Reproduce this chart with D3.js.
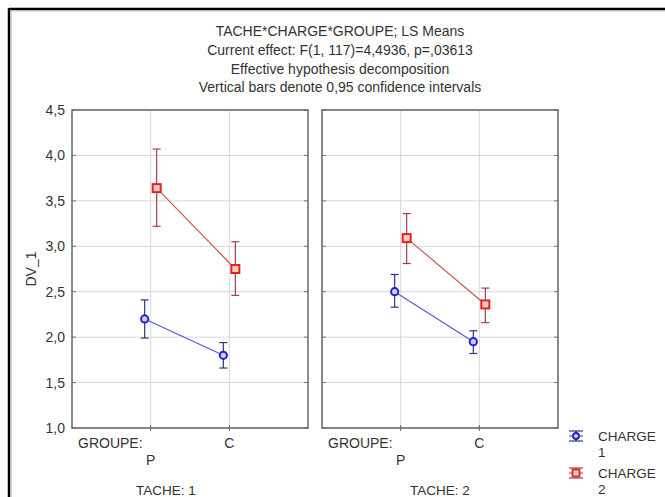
<!DOCTYPE html>
<html><head><meta charset="utf-8">
<script src="https://cdn.jsdelivr.net/npm/d3@7"></script>
<style>body{margin:0;background:#fff;} text{font-family:"Liberation Sans",Arial,sans-serif;fill:#333;}</style>
</head><body>
<svg id="c" width="665" height="497"></svg>
<script>
const titleLines = ["TACHE*CHARGE*GROUPE; LS Means","Current effect: F(1, 117)=4,4936, p=,03613","Effective hypothesis decomposition","Vertical bars denote 0,95 confidence intervals"];
const taches = ["TACHE: 1","TACHE: 2"];
const groupes = ["P","C"];
const series = ["CHARGE 1","CHARGE 2"];
const yTicks = [1.0,1.5,2.0,2.5,3.0,3.5,4.0,4.5];
// means [tache][groupe]
const charge1Mean = [[2.20,1.80],[2.50,1.95]];
const charge1Low  = [[1.99,1.66],[2.33,1.82]];
const charge1High = [[2.41,1.94],[2.69,2.07]];
const charge2Mean = [[3.64,2.75],[3.09,2.36]];
const charge2Low  = [[3.22,2.46],[2.81,2.16]];
const charge2High = [[4.07,3.05],[3.36,2.54]];

const FS = "14px";
const svg = d3.select("#c");
// outer frame
svg.append("line").attr("x1",9).attr("x2",665).attr("y1",9).attr("y2",9).attr("stroke","#000").attr("stroke-width",2.5);
svg.append("line").attr("x1",9).attr("x2",9).attr("y1",8).attr("y2",497).attr("stroke","#000").attr("stroke-width",2.5);
svg.append("line").attr("x1",10.5).attr("x2",665).attr("y1",11).attr("y2",11).attr("stroke","#bbb").attr("stroke-width",1);
svg.append("line").attr("x1",11).attr("x2",11).attr("y1",10.5).attr("y2",497).attr("stroke","#bbb").attr("stroke-width",1);

svg.selectAll(".title").data(titleLines).enter().append("text")
  .attr("x",340).attr("y",(d,i)=>36+i*18.8).attr("text-anchor","middle")
  .style("font-size",FS).text(d=>d);

const y = d3.scaleLinear().domain([1,4.5]).range([428,110]);
const panelX = [72,322], panelW = 236;
const blue="#1f1fd6", blueBar="#34347a", blueLine="#5a5ac8";
const red="#e8201e", redBar="#a0404a", redLine="#c85858";

// y tick labels
svg.selectAll(".yt").data(yTicks).enter().append("text")
  .attr("x",65).attr("y",d=>y(d)+5).attr("text-anchor","end").style("font-size",FS)
  .text(d=>d3.format(".1f")(d).replace(".",","));
svg.append("text").attr("transform","translate(36,269) rotate(-90)").attr("text-anchor","middle")
  .style("font-size",FS).text("DV_1");

const seriesData = [
  {name:series[0], mean:charge1Mean, low:charge1Low, high:charge1High, col:blue, bar:blueBar, line:blueLine, shape:"circle", off:-6},
  {name:series[1], mean:charge2Mean, low:charge2Low, high:charge2High, col:red, bar:redBar, line:redLine, shape:"square", off:6}
];

taches.forEach((t,ti)=>{
  const x = d3.scalePoint().domain(groupes).range([panelX[ti], panelX[ti]+panelW]).padding(1);
  const g = svg.append("g");
  // grid
  g.selectAll(".hg").data(yTicks).enter().append("line")
    .attr("x1",panelX[ti]).attr("x2",panelX[ti]+panelW).attr("y1",d=>y(d)).attr("y2",d=>y(d))
    .attr("stroke","#d8d8d8").attr("stroke-width",1);
  g.selectAll(".vg").data(groupes).enter().append("line")
    .attr("x1",d=>x(d)).attr("x2",d=>x(d)).attr("y1",y(4.5)).attr("y2",y(1))
    .attr("stroke","#d8d8d8").attr("stroke-width",1);
  g.selectAll(".vt").data(groupes).enter().append("line")
    .attr("x1",d=>x(d)).attr("x2",d=>x(d)).attr("y1",y(1)-3).attr("y2",y(1)+3)
    .attr("stroke","#666").attr("stroke-width",1);
  // y ticks on edges
  g.selectAll(".ytl").data(yTicks).enter().append("line")
    .attr("x1",panelX[ti]).attr("x2",panelX[ti]+4).attr("y1",d=>y(d)).attr("y2",d=>y(d)).attr("stroke","#777");
  g.selectAll(".ytr").data(yTicks).enter().append("line")
    .attr("x1",panelX[ti]+panelW-4).attr("x2",panelX[ti]+panelW).attr("y1",d=>y(d)).attr("y2",d=>y(d)).attr("stroke","#777");
  g.append("rect").attr("x",panelX[ti]).attr("y",y(4.5)).attr("width",panelW).attr("height",y(1)-y(4.5))
    .attr("fill","none").attr("stroke","#666").attr("stroke-width",1.5);
  // labels
  g.append("text").attr("x",panelX[ti]+6).attr("y",448).style("font-size",FS).text("GROUPE:");
  g.append("text").attr("x",x("C")).attr("y",448).attr("text-anchor","middle").style("font-size",FS).text("C");
  g.append("text").attr("x",x("P")).attr("y",465).attr("text-anchor","middle").style("font-size",FS).text("P");
  g.append("text").attr("x",ti===0?166:440).attr("y",495).attr("text-anchor","middle").style("font-size","13.5px").text(t);

  seriesData.forEach(s=>{
    const pts = groupes.map((gr,gi)=>({x:x(gr)+s.off, m:s.mean[ti][gi], lo:s.low[ti][gi], hi:s.high[ti][gi]}));
    g.append("path").attr("d",d3.line().x(d=>d.x).y(d=>y(d.m))(pts)).attr("fill","none").attr("stroke",s.line).attr("stroke-width",1.2);
    pts.forEach(p=>{
      g.append("line").attr("x1",p.x).attr("x2",p.x).attr("y1",y(p.lo)).attr("y2",y(p.hi)).attr("stroke",s.bar).attr("stroke-width",1.2);
      [p.lo,p.hi].forEach(v=>g.append("line").attr("x1",p.x-4).attr("x2",p.x+4).attr("y1",y(v)).attr("y2",y(v)).attr("stroke",s.bar).attr("stroke-width",1.2));
      if(s.shape==="circle"){
        g.append("circle").attr("cx",p.x).attr("cy",y(p.m)).attr("r",3.6).attr("fill","#d0d0f4").attr("stroke",s.col).attr("stroke-width",2);
      } else {
        g.append("rect").attr("x",p.x-4).attr("y",y(p.m)-4).attr("width",8).attr("height",8).attr("fill","#f4d0c0").attr("stroke",s.col).attr("stroke-width",2);
      }
    });
  });
});

// legend
seriesData.forEach((s,i)=>{
  const cy = 436 + i*37, cx = 576;
  const lg = svg.append("g");
  lg.append("line").attr("x1",cx-7).attr("x2",cx+7).attr("y1",cy).attr("y2",cy).attr("stroke",s.line).attr("stroke-width",1.2);
  [cy-5,cy+5].forEach(v=>lg.append("line").attr("x1",cx-7).attr("x2",cx+7).attr("y1",v).attr("y2",v).attr("stroke",s.bar).attr("stroke-width",1.2));
  lg.append("line").attr("x1",cx).attr("x2",cx).attr("y1",cy-5).attr("y2",cy+5).attr("stroke",s.bar).attr("stroke-width",1.2);
  if(s.shape==="circle") lg.append("circle").attr("cx",cx).attr("cy",cy).attr("r",3).attr("fill","#d0d0f4").attr("stroke",s.col).attr("stroke-width",1.8);
  else lg.append("rect").attr("x",cx-3.5).attr("y",cy-3.5).attr("width",7).attr("height",7).attr("fill","#f4d0c0").attr("stroke",s.col).attr("stroke-width",1.8);
  const parts = s.name.split(" ");
  lg.append("text").attr("x",598).attr("y",cy+5).style("font-size","13.5px").text(parts[0]);
  lg.append("text").attr("x",598).attr("y",cy+21).style("font-size","13.5px").text(parts[1]);
});
</script>
</body></html>
